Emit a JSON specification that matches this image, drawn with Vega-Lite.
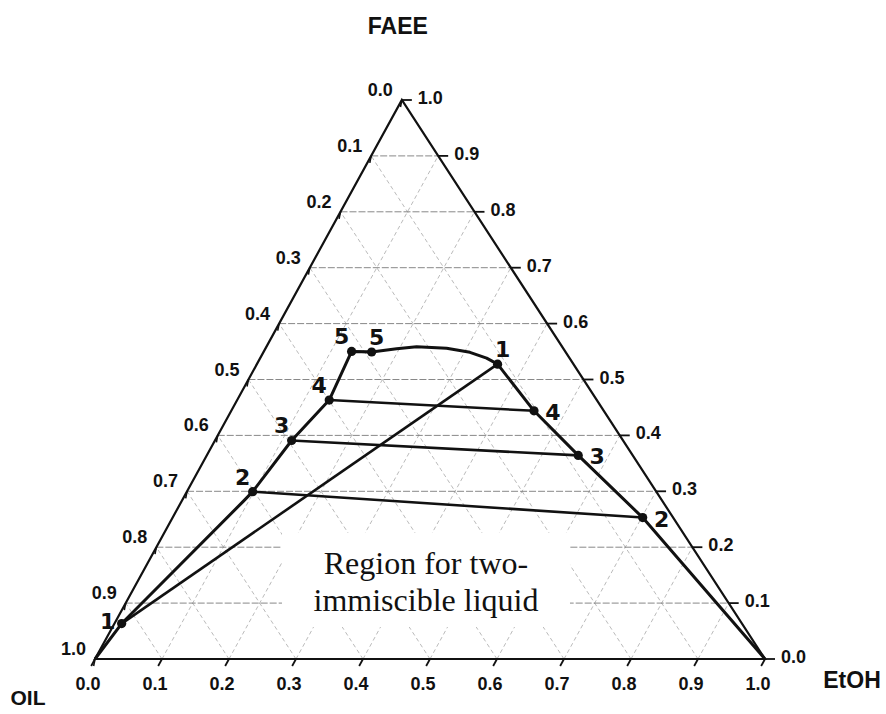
{
  "$schema": "https://vega.github.io/schema/vega-lite/v6.json",
  "width": 670,
  "height": 559,
  "autosize": {"type": "none"},
  "padding": {"left": 95, "top": 100, "right": 121, "bottom": 55},
  "background": "white",
  "config": {"view": {"stroke": null}},
  "datasets": {
    "vertices": [
      {"name": "OIL", "x": 0, "y": 0},
      {"name": "EtOH", "x": 1, "y": 0},
      {"name": "FAEE", "x": 0.458, "y": 1}
    ],
    "grid": [
      {"dir": "h", "x": 0.0458, "y": 0.1, "x2": 0.9458, "y2": 0.1},
      {"dir": "h", "x": 0.0916, "y": 0.2, "x2": 0.8916, "y2": 0.2},
      {"dir": "h", "x": 0.1374, "y": 0.3, "x2": 0.8374, "y2": 0.3},
      {"dir": "h", "x": 0.1832, "y": 0.4, "x2": 0.7832, "y2": 0.4},
      {"dir": "h", "x": 0.229, "y": 0.5, "x2": 0.729, "y2": 0.5},
      {"dir": "h", "x": 0.2748, "y": 0.6, "x2": 0.6748, "y2": 0.6},
      {"dir": "h", "x": 0.3206, "y": 0.7, "x2": 0.6206, "y2": 0.7},
      {"dir": "h", "x": 0.3664, "y": 0.8, "x2": 0.5664, "y2": 0.8},
      {"dir": "h", "x": 0.4122, "y": 0.9, "x2": 0.5122, "y2": 0.9},
      {"dir": "e", "x": 0.1, "y": 0, "x2": 0.5122, "y2": 0.9},
      {"dir": "e", "x": 0.2, "y": 0, "x2": 0.5664, "y2": 0.8},
      {"dir": "e", "x": 0.3, "y": 0, "x2": 0.6206, "y2": 0.7},
      {"dir": "e", "x": 0.4, "y": 0, "x2": 0.6748, "y2": 0.6},
      {"dir": "e", "x": 0.5, "y": 0, "x2": 0.729, "y2": 0.5},
      {"dir": "e", "x": 0.6, "y": 0, "x2": 0.7832, "y2": 0.4},
      {"dir": "e", "x": 0.7, "y": 0, "x2": 0.8374, "y2": 0.3},
      {"dir": "e", "x": 0.8, "y": 0, "x2": 0.8916, "y2": 0.2},
      {"dir": "e", "x": 0.9, "y": 0, "x2": 0.9458, "y2": 0.1},
      {"dir": "o", "x": 0.9, "y": 0, "x2": 0.4122, "y2": 0.9},
      {"dir": "o", "x": 0.8, "y": 0, "x2": 0.3664, "y2": 0.8},
      {"dir": "o", "x": 0.7, "y": 0, "x2": 0.3206, "y2": 0.7},
      {"dir": "o", "x": 0.6, "y": 0, "x2": 0.2748, "y2": 0.6},
      {"dir": "o", "x": 0.5, "y": 0, "x2": 0.229, "y2": 0.5},
      {"dir": "o", "x": 0.4, "y": 0, "x2": 0.1832, "y2": 0.4},
      {"dir": "o", "x": 0.3, "y": 0, "x2": 0.1374, "y2": 0.3},
      {"dir": "o", "x": 0.2, "y": 0, "x2": 0.0916, "y2": 0.2},
      {"dir": "o", "x": 0.1, "y": 0, "x2": 0.0458, "y2": 0.1}
    ],
    "ticks": [
      {"side": "bottom", "v": 0.0, "x": 0.0, "y": 0},
      {"side": "bottom", "v": 0.1, "x": 0.1, "y": 0},
      {"side": "bottom", "v": 0.2, "x": 0.2, "y": 0},
      {"side": "bottom", "v": 0.3, "x": 0.3, "y": 0},
      {"side": "bottom", "v": 0.4, "x": 0.4, "y": 0},
      {"side": "bottom", "v": 0.5, "x": 0.5, "y": 0},
      {"side": "bottom", "v": 0.6, "x": 0.6, "y": 0},
      {"side": "bottom", "v": 0.7, "x": 0.7, "y": 0},
      {"side": "bottom", "v": 0.8, "x": 0.8, "y": 0},
      {"side": "bottom", "v": 0.9, "x": 0.9, "y": 0},
      {"side": "bottom", "v": 1.0, "x": 1.0, "y": 0},
      {"side": "left", "v": 0.0, "x": 0.458, "y": 1.0},
      {"side": "left", "v": 0.1, "x": 0.4122, "y": 0.9},
      {"side": "left", "v": 0.2, "x": 0.3664, "y": 0.8},
      {"side": "left", "v": 0.3, "x": 0.3206, "y": 0.7},
      {"side": "left", "v": 0.4, "x": 0.2748, "y": 0.6},
      {"side": "left", "v": 0.5, "x": 0.229, "y": 0.5},
      {"side": "left", "v": 0.6, "x": 0.1832, "y": 0.4},
      {"side": "left", "v": 0.7, "x": 0.1374, "y": 0.3},
      {"side": "left", "v": 0.8, "x": 0.0916, "y": 0.2},
      {"side": "left", "v": 0.9, "x": 0.0458, "y": 0.1},
      {"side": "left", "v": 1.0, "x": 0.0, "y": 0.0},
      {"side": "right", "v": 0.0, "x": 1.0, "y": 0.0},
      {"side": "right", "v": 0.1, "x": 0.9458, "y": 0.1},
      {"side": "right", "v": 0.2, "x": 0.8916, "y": 0.2},
      {"side": "right", "v": 0.3, "x": 0.8374, "y": 0.3},
      {"side": "right", "v": 0.4, "x": 0.7832, "y": 0.4},
      {"side": "right", "v": 0.5, "x": 0.729, "y": 0.5},
      {"side": "right", "v": 0.6, "x": 0.6748, "y": 0.6},
      {"side": "right", "v": 0.7, "x": 0.6206, "y": 0.7},
      {"side": "right", "v": 0.8, "x": 0.5664, "y": 0.8},
      {"side": "right", "v": 0.9, "x": 0.5122, "y": 0.9},
      {"side": "right", "v": 1.0, "x": 0.458, "y": 1.0}
    ],
    "binodal": [
      {"x": 0.0, "y": 0.0},
      {"x": 0.0398, "y": 0.0634},
      {"x": 0.2213, "y": 0.282},
      {"x": 0.2353, "y": 0.2994},
      {"x": 0.2935, "y": 0.3909},
      {"x": 0.3496, "y": 0.4632},
      {"x": 0.383, "y": 0.5502},
      {"x": 0.4129, "y": 0.5492},
      {"x": 0.4502, "y": 0.555},
      {"x": 0.48, "y": 0.5586},
      {"x": 0.5248, "y": 0.5559},
      {"x": 0.5596, "y": 0.5486},
      {"x": 0.5845, "y": 0.5382},
      {"x": 0.6009, "y": 0.5274},
      {"x": 0.6552, "y": 0.444},
      {"x": 0.7213, "y": 0.3642},
      {"x": 0.8174, "y": 0.253},
      {"x": 1.0, "y": 0.0}
    ],
    "points": [
      {"id": "1L", "tie": "1", "x": 0.0398, "y": 0.0634},
      {"id": "1R", "tie": "1", "x": 0.6009, "y": 0.5274},
      {"id": "2L", "tie": "2", "x": 0.2353, "y": 0.2994},
      {"id": "2R", "tie": "2", "x": 0.8174, "y": 0.253},
      {"id": "3L", "tie": "3", "x": 0.2935, "y": 0.3909},
      {"id": "3R", "tie": "3", "x": 0.7213, "y": 0.3642},
      {"id": "4L", "tie": "4", "x": 0.3496, "y": 0.4632},
      {"id": "4R", "tie": "4", "x": 0.6552, "y": 0.444},
      {"id": "5L", "tie": "5", "x": 0.383, "y": 0.5502},
      {"id": "5R", "tie": "5", "x": 0.4129, "y": 0.5492}
    ],
    "note": [
      {"text": "Region for two-\nimmiscible liquid", "x": 0.494, "y": 0.1413}
    ]
  },
  "encoding": {
    "x": {"field": "x", "type": "quantitative", "scale": {"domain": [0, 1], "nice": false, "zero": false}, "axis": null},
    "y": {"field": "y", "type": "quantitative", "scale": {"domain": [0, 1], "nice": false, "zero": false}, "axis": null}
  },
  "layer": [
    {
      "data": {"name": "grid"},
      "transform": [{"filter": "datum.dir !== 'h'"}],
      "mark": {"type": "rule", "stroke": "#a8a8a8", "strokeWidth": 0.8, "strokeDash": [4, 3]},
      "encoding": {"x2": {"field": "x2"}, "y2": {"field": "y2"}}
    },
    {
      "data": {"name": "grid"},
      "transform": [{"filter": "datum.dir === 'h'"}],
      "mark": {"type": "rule", "stroke": "#7a7a7a", "strokeWidth": 0.9, "strokeDash": [7, 2]},
      "encoding": {"x2": {"field": "x2"}, "y2": {"field": "y2"}}
    },
    {
      "data": {"name": "note"},
      "mark": {"type": "point", "shape": "M-1,-0.3264L1,-0.3264L1,0.3264L-1,0.3264Z", "size": 82944, "filled": true, "fill": "white", "strokeWidth": 0, "opacity": 1}
    },
    {
      "data": {"name": "vertices"},
      "mark": {"type": "line", "interpolate": "linear-closed", "stroke": "#111", "strokeWidth": 2.2}
    },
    {
      "data": {"name": "ticks"},
      "transform": [{"filter": "datum.side === 'bottom'"}],
      "mark": {"type": "point", "shape": "M0,0L-0.48,0.88", "size": 256, "filled": false, "stroke": "#111", "strokeWidth": 1.8, "opacity": 1}
    },
    {
      "data": {"name": "ticks"},
      "transform": [{"filter": "datum.side === 'left'"}],
      "mark": {"type": "point", "shape": "M0,0L-0.2,1", "size": 196, "filled": false, "stroke": "#111", "strokeWidth": 1.6, "opacity": 1}
    },
    {
      "data": {"name": "ticks"},
      "transform": [{"filter": "datum.side === 'right'"}],
      "mark": {"type": "point", "shape": "M0,0L1,0", "size": 400, "filled": false, "stroke": "#111", "strokeWidth": 1.8, "opacity": 1}
    },
    {
      "data": {"name": "binodal"},
      "mark": {"type": "line", "stroke": "#111", "strokeWidth": 3, "strokeJoin": "round"}
    },
    {
      "data": {"name": "points"},
      "mark": {"type": "line", "stroke": "#111", "strokeWidth": 2.6},
      "encoding": {"detail": {"field": "tie"}}
    },
    {
      "data": {"name": "points"},
      "mark": {"type": "point", "shape": "circle", "filled": true, "fill": "#111", "size": 85, "opacity": 1}
    },
    {
      "data": {"name": "points"},
      "transform": [{"filter": {"field": "id", "oneOf": ["5L", "4L", "3L", "2L"]}}],
      "mark": {"type": "text", "font": "DejaVu Sans", "fontSize": 22, "fontWeight": "bold", "fill": "#111", "align": "center", "baseline": "middle", "dx": -10, "dy": -14},
      "encoding": {"text": {"field": "tie"}}
    },
    {
      "data": {"name": "points"},
      "transform": [{"filter": {"field": "id", "oneOf": ["5R", "1R"]}}],
      "mark": {"type": "text", "font": "DejaVu Sans", "fontSize": 22, "fontWeight": "bold", "fill": "#111", "align": "center", "baseline": "middle", "dx": 5, "dy": -14},
      "encoding": {"text": {"field": "tie"}}
    },
    {
      "data": {"name": "points"},
      "transform": [{"filter": {"field": "id", "oneOf": ["4R", "3R", "2R"]}}],
      "mark": {"type": "text", "font": "DejaVu Sans", "fontSize": 22, "fontWeight": "bold", "fill": "#111", "align": "center", "baseline": "middle", "dx": 19, "dy": 2},
      "encoding": {"text": {"field": "tie"}}
    },
    {
      "data": {"name": "points"},
      "transform": [{"filter": {"field": "id", "oneOf": ["1L"]}}],
      "mark": {"type": "text", "font": "DejaVu Sans", "fontSize": 22, "fontWeight": "bold", "fill": "#111", "align": "center", "baseline": "middle", "dx": -14, "dy": -2},
      "encoding": {"text": {"field": "tie"}}
    },
    {
      "data": {"name": "ticks"},
      "transform": [{"filter": "datum.side === 'bottom'"}],
      "mark": {"type": "text", "font": "Liberation Sans", "fontSize": 18, "fontWeight": "bold", "fill": "#111", "align": "center", "baseline": "middle", "dx": -7, "dy": 26},
      "encoding": {"text": {"field": "v", "type": "quantitative", "format": ".1f"}}
    },
    {
      "data": {"name": "ticks"},
      "transform": [{"filter": "datum.side === 'left'"}],
      "mark": {"type": "text", "font": "Liberation Sans", "fontSize": 18, "fontWeight": "bold", "fill": "#111", "align": "right", "baseline": "alphabetic", "dx": -9, "dy": -4},
      "encoding": {"text": {"field": "v", "type": "quantitative", "format": ".1f"}}
    },
    {
      "data": {"name": "ticks"},
      "transform": [{"filter": "datum.side === 'right'"}],
      "mark": {"type": "text", "font": "Liberation Sans", "fontSize": 18, "fontWeight": "bold", "fill": "#111", "align": "left", "baseline": "middle", "dx": 16, "dy": -1},
      "encoding": {"text": {"field": "v", "type": "quantitative", "format": ".1f"}}
    },
    {
      "data": {"name": "vertices"},
      "transform": [{"filter": "datum.name === 'OIL'"}],
      "mark": {"type": "text", "font": "Liberation Sans", "fontSize": 21, "fontWeight": "bold", "fill": "#111", "align": "center", "baseline": "middle", "dx": -67, "dy": 40},
      "encoding": {"text": {"field": "name"}}
    },
    {
      "data": {"name": "vertices"},
      "transform": [{"filter": "datum.name === 'EtOH'"}],
      "mark": {"type": "text", "font": "Liberation Sans", "fontSize": 23, "fontWeight": "bold", "fill": "#111", "align": "center", "baseline": "middle", "dx": 87, "dy": 22},
      "encoding": {"text": {"field": "name"}}
    },
    {
      "data": {"name": "vertices"},
      "transform": [{"filter": "datum.name === 'FAEE'"}],
      "mark": {"type": "text", "font": "Liberation Sans", "fontSize": 23, "fontWeight": "bold", "fill": "#111", "align": "center", "baseline": "middle", "dx": -4, "dy": -73},
      "encoding": {"text": {"field": "name"}}
    },
    {
      "data": {"name": "note"},
      "mark": {"type": "text", "font": "Liberation Serif", "fontSize": 32, "lineBreak": "\n", "lineHeight": 37, "fill": "#111", "align": "center", "baseline": "middle", "dy": -16},
      "encoding": {"text": {"field": "text"}}
    }
  ]
}
